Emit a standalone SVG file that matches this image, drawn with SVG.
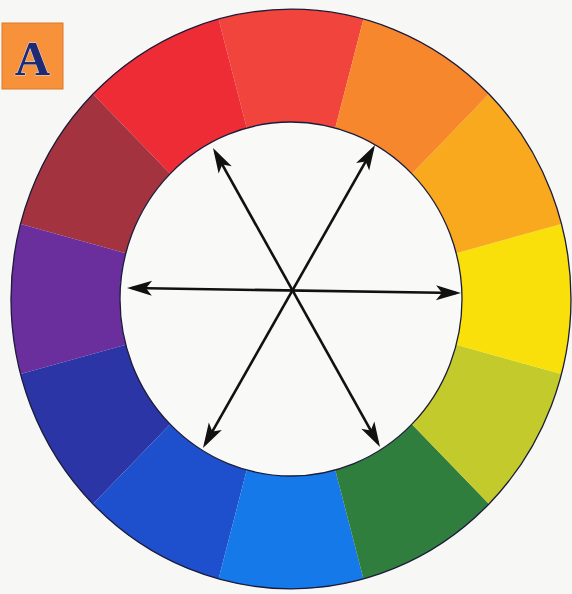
<svg xmlns="http://www.w3.org/2000/svg" width="572" height="594" viewBox="0 0 572 594">
  <style>
    .rim { fill: none; stroke: #1b1b3a; stroke-width: 1.3; }
    .arrow { stroke: #111111; stroke-width: 2.6; fill: none; marker-start: url(#head); marker-end: url(#head); }
    .label { font-family: "Liberation Serif", "DejaVu Serif", serif; font-weight: bold; font-size: 49px; fill: #1f2a72; stroke: #d8dcf0; stroke-width: 1; paint-order: stroke; }
  </style>
  <defs>
    <marker id="head" markerUnits="userSpaceOnUse" viewBox="-24 -10 34 20" markerWidth="34" markerHeight="20" refX="0" refY="0" orient="auto-start-reverse" overflow="visible">
      <path d="M5,0 L-20,-7.5 L-14,0 L-20,7.5 Z" fill="#111111"/>
    </marker>
  </defs>
  <rect width="572" height="594" fill="#f7f7f5"/>

  <g id="label-A">
    <rect x="2" y="23" width="61" height="66" fill="#f7923a" stroke="#d9762a" stroke-width="1"/>
    <text class="label" x="32.5" y="75" text-anchor="middle">A</text>
  </g>

  <g id="wheel" transform="translate(291,299) scale(1,1.035)">
    <g id="seg-red-orange"><path fill="#f1443c" d="M72.47,-270.46 A280,280 0 0 0 -72.47,-270.46 L-44.26,-165.17 A171,171 0 0 1 44.26,-165.17 Z"/></g>
    <g id="seg-red"><path fill="#ee2c36" d="M-72.47,-270.46 A280,280 0 0 0 -197.99,-197.99 L-120.92,-120.92 A171,171 0 0 1 -44.26,-165.17 Z"/></g>
    <g id="seg-maroon"><path fill="#a3343f" d="M-197.99,-197.99 A280,280 0 0 0 -270.46,-72.47 L-165.17,-44.26 A171,171 0 0 1 -120.92,-120.92 Z"/></g>
    <g id="seg-violet"><path fill="#6b2f9d" d="M-270.46,-72.47 A280,280 0 0 0 -270.46,72.47 L-165.17,44.26 A171,171 0 0 1 -165.17,-44.26 Z"/></g>
    <g id="seg-indigo"><path fill="#2c35a6" d="M-270.46,72.47 A280,280 0 0 0 -197.99,197.99 L-120.92,120.92 A171,171 0 0 1 -165.17,44.26 Z"/></g>
    <g id="seg-blue"><path fill="#1e4fcc" d="M-197.99,197.99 A280,280 0 0 0 -72.47,270.46 L-44.26,165.17 A171,171 0 0 1 -120.92,120.92 Z"/></g>
    <g id="seg-azure"><path fill="#1679ea" d="M-72.47,270.46 A280,280 0 0 0 72.47,270.46 L44.26,165.17 A171,171 0 0 1 -44.26,165.17 Z"/></g>
    <g id="seg-green"><path fill="#2f7e3e" d="M72.47,270.46 A280,280 0 0 0 197.99,197.99 L120.92,120.92 A171,171 0 0 1 44.26,165.17 Z"/></g>
    <g id="seg-yellow-green"><path fill="#c3cb2c" d="M197.99,197.99 A280,280 0 0 0 270.46,72.47 L165.17,44.26 A171,171 0 0 1 120.92,120.92 Z"/></g>
    <g id="seg-yellow"><path fill="#f9e00b" d="M270.46,72.47 A280,280 0 0 0 270.46,-72.47 L165.17,-44.26 A171,171 0 0 1 165.17,44.26 Z"/></g>
    <g id="seg-yellow-orange"><path fill="#f8a91d" d="M270.46,-72.47 A280,280 0 0 0 197.99,-197.99 L120.92,-120.92 A171,171 0 0 1 165.17,-44.26 Z"/></g>
    <g id="seg-orange"><path fill="#f7872c" d="M197.99,-197.99 A280,280 0 0 0 72.47,-270.46 L44.26,-165.17 A171,171 0 0 1 120.92,-120.92 Z"/></g>
    <circle r="171" fill="#f9f9f8"/>
    <circle class="rim" r="280"/>
    <circle class="rim" r="171"/>
  </g>

  <g id="connectors">
    <line class="arrow" x1="132" y1="288.07" x2="456" y2="292.93"/>
    <line class="arrow" x1="215.44" y1="152.37" x2="377.56" y2="442.63"/>
    <line class="arrow" x1="372.53" y1="149.35" x2="205.47" y2="443.65"/>
  </g>
</svg>
